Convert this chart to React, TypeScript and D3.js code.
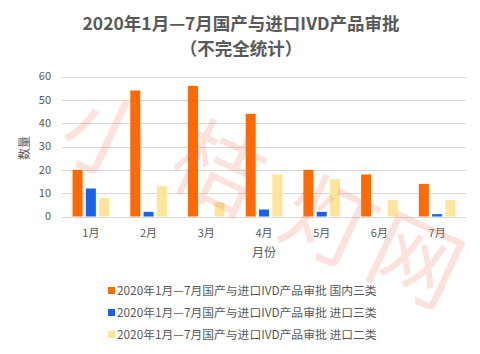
import React from "react";
import * as d3 from "d3";

const months = ["1月", "2月", "3月", "4月", "5月", "6月", "7月"];
const domestic3 = [20, 54, 56, 44, 20, 18, 14];
const import3 = [12, 2, 0, 3, 2, 0, 1];
const import2 = [8, 13, 6, 18, 16, 7, 7];
const yTicks = [0, 10, 20, 30, 40, 50, 60];
const seriesNames = [
  "2020年1月—7月国产与进口IVD产品审批 国内三类",
  "2020年1月—7月国产与进口IVD产品审批 进口三类",
  "2020年1月—7月国产与进口IVD产品审批 进口二类",
];
const colors = ["#ff6a00", "#1a62e6", "#ffe49c"];
const watermark = ["小", "桔", "灯", "网"];

const W = 480, H = 354;
const font = "'Microsoft YaHei','Noto Sans CJK SC','Noto Sans',sans-serif";

export default function App() {
  const series = [domestic3, import3, import2];
  const x = d3.scaleBand<string>().domain(months).range([62, 466]).padding(0);
  const y = d3.scaleLinear().domain([0, 60]).range([216.5, 76.5]);
  const barW = 10;
  const gap = 3.3;
  const groupW = barW * 3 + gap * 2;
  const wm = [
    { x: 95, y: 168, r: 25 },
    { x: 205, y: 198, r: 25 },
    { x: 315, y: 252, r: 25 },
    { x: 402, y: 290, r: 25 },
  ];
  return (
    <div style={{ margin: -8 }}>
      <svg width={W} height={H} style={{ display: "block", fontFamily: font }}>
        <rect x={0} y={0} width={W} height={H} fill="#fff" />
        <rect x={1.5} y={0.5} width={476.5} height={352} fill="none" stroke="#d9d9d9" />
        <text x={241} y={30} textAnchor="middle" fontSize={17.5} fontWeight="bold" fill="#595959">
          2020年1月—7月国产与进口IVD产品审批
        </text>
        <text x={241} y={55} textAnchor="middle" fontSize={17.5} fontWeight="bold" fill="#595959">
          （不完全统计）
        </text>
        {yTicks.map((t) => (
          <g key={t}>
            <line x1={62} x2={466} y1={Math.round(y(t)) + 0.5} y2={Math.round(y(t)) + 0.5} stroke="#d9d9d9" strokeWidth={1} />
            <text x={51} y={y(t)} dy="0.35em" textAnchor="end" fontSize={11} fill="#595959">
              {t}
            </text>
          </g>
        ))}
        {series.map((vals, si) =>
          vals.map((v, i) => {
            const x0 = (x(months[i]) as number) + x.bandwidth() / 2 - groupW / 2 + si * (barW + gap);
            return (
              <rect key={si + "-" + i} x={x0} y={y(v)} width={barW} height={y(0) - y(v)} fill={colors[si]} />
            );
          })
        )}
        {months.map((m) => (
          <text key={m} x={(x(m) as number) + x.bandwidth() / 2} y={233} dy="0.35em" textAnchor="middle" fontSize={11} fill="#595959">
            {m}
          </text>
        ))}
        <text x={264} y={253} dy="0.35em" textAnchor="middle" fontSize={12} fill="#595959">
          月份
        </text>
        <text transform="translate(25,148) rotate(-90)" textAnchor="middle" dy="0.35em" fontSize={12} fill="#595959">
          数量
        </text>
        {seriesNames.map((s, i) => (
          <g key={s} transform={`translate(108,${290.5 + i * 22})`}>
            <rect x={0} y={-3.5} width={7} height={7} fill={colors[i]} />
            <text x={9} y={0} dy="0.35em" fontSize={11.8} fill="#595959">
              {s}
            </text>
          </g>
        ))}
        {watermark.map((c, i) => (
          <text
            key={c}
            transform={`translate(${wm[i].x},${wm[i].y}) rotate(${wm[i].r})`}
            textAnchor="middle"
            fontSize={90}
            fill="#f07050"
            fillOpacity={0.2}
          >
            {c}
          </text>
        ))}
      </svg>
    </div>
  );
}
